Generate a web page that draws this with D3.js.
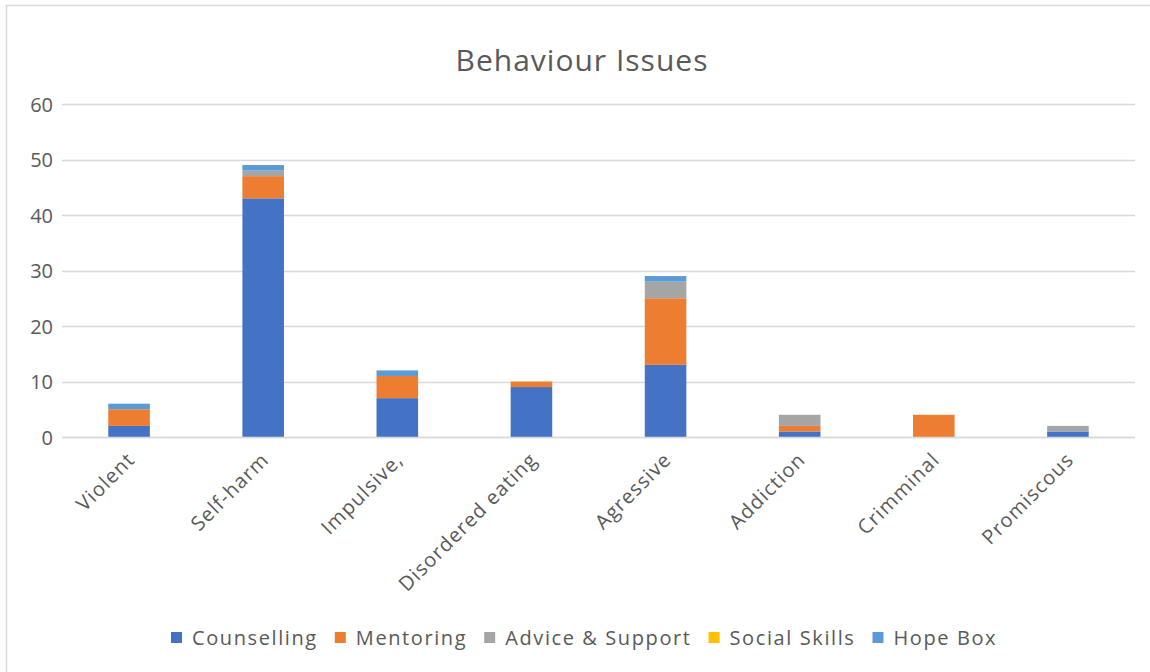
<!DOCTYPE html>
<html>
<head>
<meta charset="utf-8">
<script src="https://cdn.jsdelivr.net/npm/d3@7"></script>
<style>
  body { margin: 0; background: #fff; }
  svg { display: block; }
  text { font-family: "Open Sans", "Liberation Sans", sans-serif; fill: #595959; }
</style>
</head>
<body>
<svg id="chart" width="1150" height="672"></svg>
<script>
const categories = ["Violent", "Self-harm", "Impulsive,", "Disordered eating", "Agressive", "Addiction", "Crimminal", "Promiscous"];
const seriesNames = ["Counselling", "Mentoring", "Advice & Support", "Social Skills", "Hope Box"];
const counselling   = [2, 43, 7, 9, 13, 1, 0, 1];
const mentoring     = [3, 4, 4, 1, 12, 1, 4, 0];
const adviceSupport = [0, 1, 0, 0, 3, 2, 0, 1];
const socialSkills  = [0, 0, 0, 0, 0, 0, 0, 0];
const hopeBox       = [1, 1, 1, 0, 1, 0, 0, 0];
const yTicks = [0, 10, 20, 30, 40, 50, 60];
const colors = ["#4472C4", "#ED7D31", "#A5A5A5", "#FFC000", "#5B9BD5"];

const seriesValues = [counselling, mentoring, adviceSupport, socialSkills, hopeBox];
const table = categories.map((c, i) => {
  const row = { category: c };
  seriesNames.forEach((s, j) => row[s] = seriesValues[j][i]);
  return row;
});

const svg = d3.select("#chart");
const W = 1150, H = 672;
const margin = { left: 62, right: 15, top: 104, bottom: 235 };

// outer chart border
svg.append("rect").attr("x", 6.5).attr("y", 5.5).attr("width", W).attr("height", H)
  .attr("fill", "none").attr("stroke", "#D9D9D9").attr("stroke-width", 1.5);

const x = d3.scaleBand().domain(categories).range([margin.left, W - margin.right]).paddingInner(0.69).paddingOuter(0.345);
const y = d3.scaleLinear().domain([0, 60]).range([437, 104]);

// title
svg.append("text").attr("x", 582).attr("y", 71).attr("text-anchor", "middle")
  .style("font-size", "30px").style("letter-spacing", "1px").text("Behaviour Issues");

// gridlines
svg.append("g").selectAll("line").data(yTicks).join("line")
  .attr("x1", margin.left).attr("x2", W - margin.right)
  .attr("y1", d => Math.round(y(d)) + 0.5).attr("y2", d => Math.round(y(d)) + 0.5)
  .attr("stroke", "#D9D9D9").attr("stroke-width", 1.3);

// y axis labels
const yAxis = d3.axisLeft(y).tickValues(yTicks).tickSize(0).tickPadding(0);
const gy = svg.append("g").attr("transform", `translate(${margin.left - 9},0)`).call(yAxis);
gy.select(".domain").remove();
gy.selectAll("text").style("font-size", "20px").style("font-family", "'Open Sans', sans-serif")
  .attr("fill", "#595959").attr("dy", "0.35em");

// stacked bars
const stack = d3.stack().keys(seriesNames);
const stacked = stack(table);
svg.append("g").selectAll("g").data(stacked).join("g")
  .attr("fill", (d, i) => colors[i])
  .selectAll("rect").data(d => d).join("rect")
  .attr("x", d => x(d.data.category))
  .attr("width", x.bandwidth())
  .attr("y", d => y(d[1]))
  .attr("height", d => y(d[0]) - y(d[1]));

// baseline
svg.append("line").attr("x1", margin.left).attr("x2", W - margin.right)
  .attr("y1", 437.5).attr("y2", 437.5).attr("stroke", "#D9D9D9").attr("stroke-width", 1.3);

// x axis labels
const xAxis = d3.axisBottom(x).tickSize(0).tickPadding(0);
const gx = svg.append("g").attr("transform", "translate(0,437)").call(xAxis);
gx.select(".domain").remove();
gx.selectAll("text")
  .style("font-size", "20px").style("letter-spacing", "1.1px").style("font-family", "'Open Sans', sans-serif")
  .attr("fill", "#595959")
  .attr("text-anchor", "end")
  .attr("dy", "0")
  .attr("y", 0)
  .attr("transform", "translate(7,24) rotate(-45)");

// legend
const legend = svg.append("g");
let lx = 171;
seriesNames.forEach((s, i) => {
  legend.append("rect").attr("x", lx).attr("y", 632).attr("width", 11).attr("height", 11).attr("fill", colors[i]);
  const t = legend.append("text").attr("x", lx + 21).attr("y", 645)
    .style("font-size", "20px").style("letter-spacing", "1.6px").text(s);
  const w = t.node().getComputedTextLength();
  lx += 21 + w + 17;
});
</script>
</body>
</html>
